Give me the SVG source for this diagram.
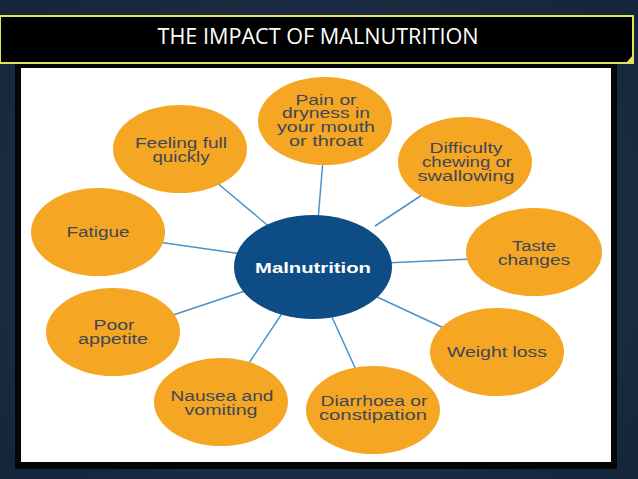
<svg xmlns="http://www.w3.org/2000/svg" width="638" height="479" viewBox="0 0 638 479">
<style>
.node{fill:#F5A623;}
.lbl{font-family:"Liberation Sans",Arial,sans-serif;font-size:14px;fill:#404756;text-anchor:middle;}
.conn line{stroke:#4A93C9;stroke-width:1.5;}
</style>
<defs>
<radialGradient id="bg" cx="0.5" cy="0.5" r="0.75">
<stop offset="0" stop-color="#22364f"/>
<stop offset="1" stop-color="#14243a"/>
</radialGradient>
</defs>
<rect x="0" y="0" width="638" height="479" fill="url(#bg)"/>
<rect x="15" y="63" width="602" height="406" fill="#050505"/>
<rect x="21" y="68" width="590" height="394" fill="#FFFFFF"/>
<g id="title">
<rect x="0" y="16" width="633" height="47" fill="#000000" stroke="#E2E35C" stroke-width="2"/>
<path d="M626,63 L633,55 L633,63 Z" fill="#E2E35C"/>
<text x="318" y="44" font-family="'Open Sans','Liberation Sans',sans-serif" font-size="21" fill="#FFFFFF" text-anchor="middle" textLength="321" lengthAdjust="spacingAndGlyphs">THE IMPACT OF MALNUTRITION</text>
</g>
<g id="connectors" class="conn">
<line x1="323" y1="160" x2="318" y2="220"/>
<line x1="425" y1="193" x2="375" y2="226"/>
<line x1="472" y1="259" x2="385" y2="263"/>
<line x1="446" y1="329" x2="375" y2="296"/>
<line x1="357" y1="372" x2="331" y2="315"/>
<line x1="247" y1="366" x2="283" y2="312"/>
<line x1="170" y1="316" x2="245" y2="291"/>
<line x1="158" y1="242" x2="242" y2="254"/>
<line x1="216" y1="182" x2="272" y2="229"/>
</g>
<g id="malnutrition">
<ellipse cx="313" cy="267" rx="79" ry="52" fill="#0E4C86"/>
<text x="313" y="273" font-family="'Liberation Sans',Arial,sans-serif" font-size="14" font-weight="bold" fill="#FFFFFF" text-anchor="middle" textLength="116" lengthAdjust="spacingAndGlyphs">Malnutrition</text>
</g>
<g id="pain">
<ellipse class="node" cx="325" cy="121" rx="67" ry="44"/>
<text class="lbl" x="326" y="105" textLength="61" lengthAdjust="spacingAndGlyphs">Pain or</text>
<text class="lbl" x="326" y="118" textLength="88" lengthAdjust="spacingAndGlyphs">dryness in</text>
<text class="lbl" x="326" y="132" textLength="98" lengthAdjust="spacingAndGlyphs">your mouth</text>
<text class="lbl" x="326" y="146" textLength="74" lengthAdjust="spacingAndGlyphs">or throat</text>
</g>
<g id="difficulty">
<ellipse class="node" cx="465" cy="162" rx="67" ry="45"/>
<text class="lbl" x="466" y="153" textLength="73" lengthAdjust="spacingAndGlyphs">Difficulty</text>
<text class="lbl" x="467" y="167" textLength="90" lengthAdjust="spacingAndGlyphs">chewing or</text>
<text class="lbl" x="466" y="181" textLength="97" lengthAdjust="spacingAndGlyphs">swallowing</text>
</g>
<g id="taste">
<ellipse class="node" cx="534" cy="252" rx="68" ry="44"/>
<text class="lbl" x="534" y="251" textLength="44" lengthAdjust="spacingAndGlyphs">Taste</text>
<text class="lbl" x="534" y="265" textLength="72" lengthAdjust="spacingAndGlyphs">changes</text>
</g>
<g id="weight">
<ellipse class="node" cx="497" cy="352" rx="67" ry="44"/>
<text class="lbl" x="497" y="357" textLength="100" lengthAdjust="spacingAndGlyphs">Weight loss</text>
</g>
<g id="diarrhoea">
<ellipse class="node" cx="373" cy="410" rx="67" ry="44"/>
<text class="lbl" x="374" y="406" textLength="107" lengthAdjust="spacingAndGlyphs">Diarrhoea or</text>
<text class="lbl" x="373" y="420" textLength="108" lengthAdjust="spacingAndGlyphs">constipation</text>
</g>
<g id="nausea">
<ellipse class="node" cx="221" cy="402" rx="67" ry="44"/>
<text class="lbl" x="222" y="401" textLength="103" lengthAdjust="spacingAndGlyphs">Nausea and</text>
<text class="lbl" x="221" y="415" textLength="73" lengthAdjust="spacingAndGlyphs">vomiting</text>
</g>
<g id="appetite">
<ellipse class="node" cx="113" cy="332" rx="67" ry="44"/>
<text class="lbl" x="114" y="330" textLength="41" lengthAdjust="spacingAndGlyphs">Poor</text>
<text class="lbl" x="113" y="344" textLength="70" lengthAdjust="spacingAndGlyphs">appetite</text>
</g>
<g id="fatigue">
<ellipse class="node" cx="98" cy="232" rx="67" ry="44"/>
<text class="lbl" x="98" y="237" textLength="63" lengthAdjust="spacingAndGlyphs">Fatigue</text>
</g>
<g id="feeling">
<ellipse class="node" cx="180" cy="149" rx="67" ry="44"/>
<text class="lbl" x="181" y="148" textLength="92" lengthAdjust="spacingAndGlyphs">Feeling full</text>
<text class="lbl" x="181" y="162" textLength="57" lengthAdjust="spacingAndGlyphs">quickly</text>
</g>
</svg>
